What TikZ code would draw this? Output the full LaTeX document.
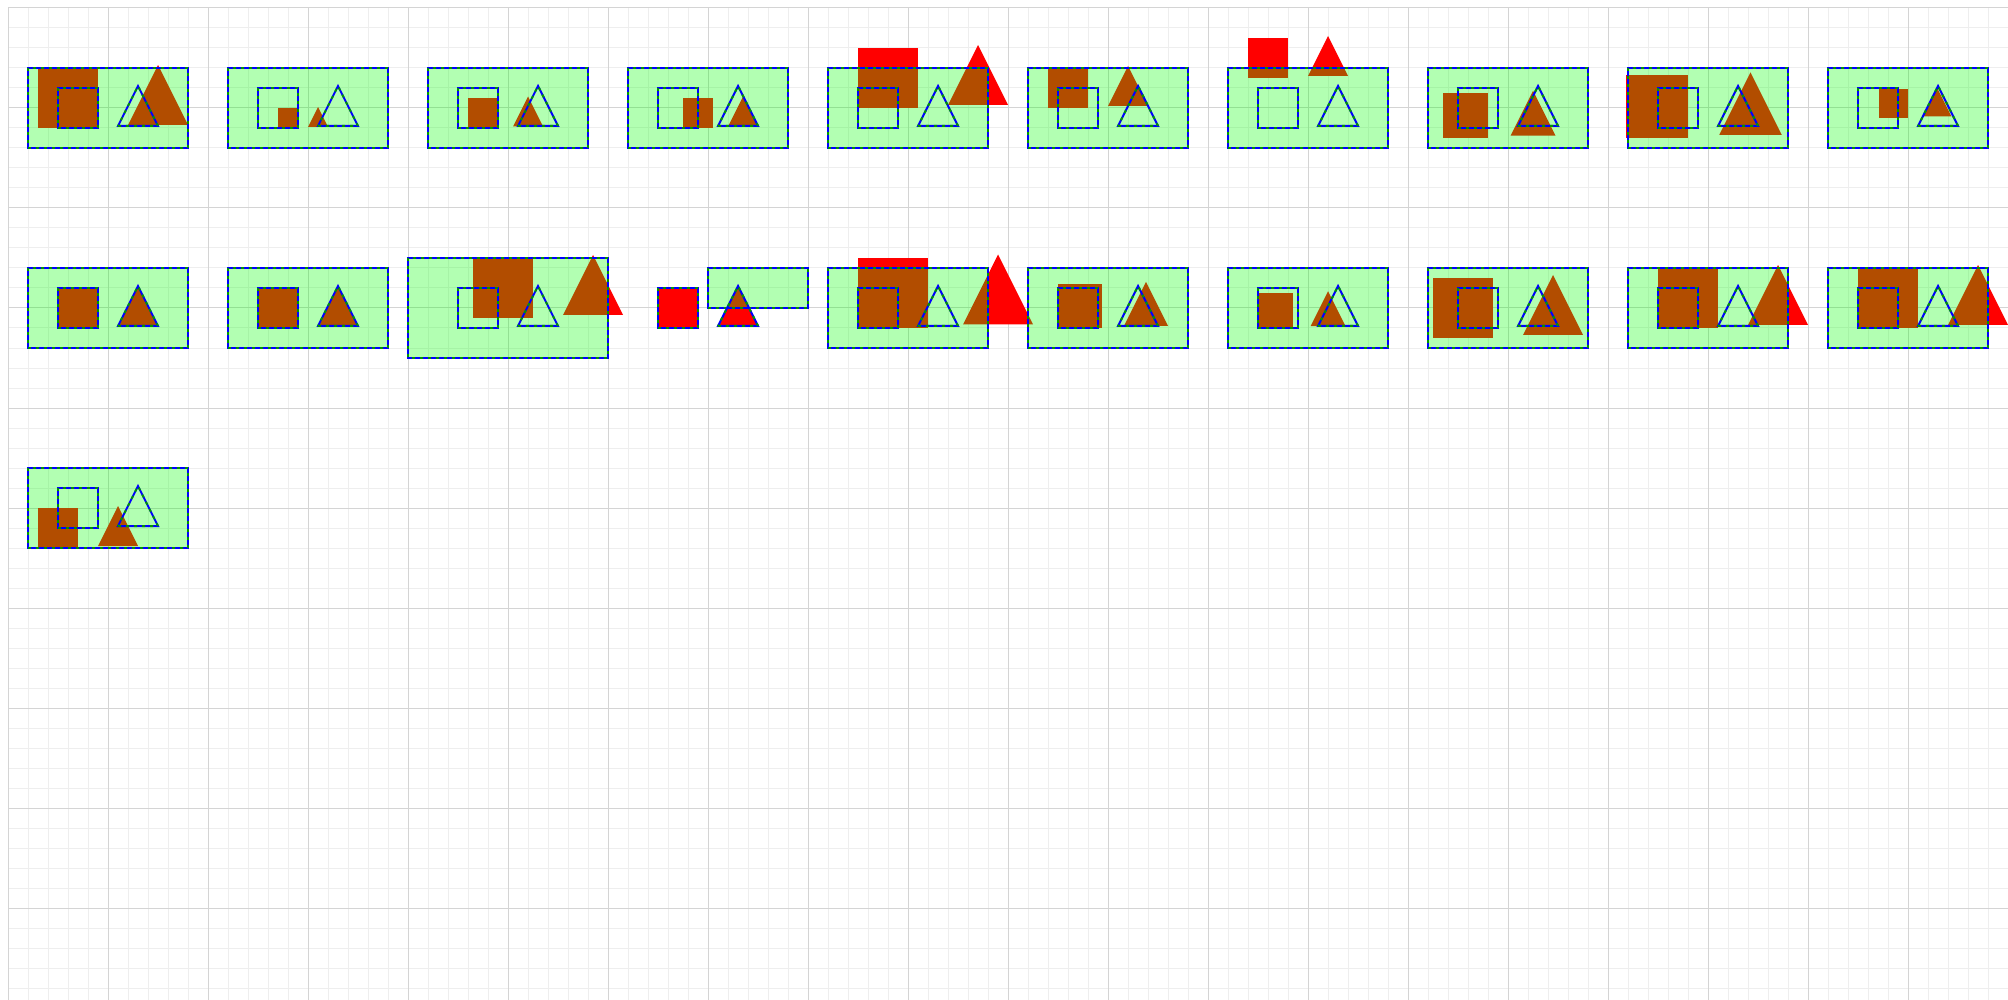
\documentclass[tikz,border=0pt]{standalone}
\begin{document}
\definecolor{svglime}{RGB}{0,255,0}
\definecolor{svgred}{RGB}{255,0,0}
\definecolor{svgblue}{RGB}{0,0,255}
\definecolor{svggreen}{RGB}{0,150,0}
\definecolor{minorgrid}{RGB}{238,238,238}
\definecolor{majorgrid}{RGB}{212,212,212}
\tikzset{
  outl/.style={draw=svgblue, line width=1pt, line join=miter,
    postaction={draw=svggreen, line width=1pt, dash pattern=on 1.5pt off 2.5pt}},
  viewbox/.style={fill=svglime, fill opacity=0.3},
  shapefill/.style={fill=svgred},
}
\newcommand\tcell[4]{%
  \begin{scope}[shift={#1}]
    \begin{scope}[#2]
      \fill[shapefill] (30,20) rectangle (70,60);
      \fill[shapefill] (90,58) -- (130,58) -- (110,18) -- cycle;
    \end{scope}
    \fill[viewbox] #3 rectangle #4;
    \draw[outl] #3 rectangle #4;
    \draw[outl] (30,20) rectangle (70,60);
    \draw[outl] (90,58) -- (130,58) -- (110,18) -- cycle;
  \end{scope}}
\begin{tikzpicture}[x=0.5pt, y=-0.5pt]
  \useasboundingbox (0,0) rectangle (2008,1000);
  \fill[white] (0,0) rectangle (2008,1000);
  % grid
  \foreach \x in {8,28,...,2008} \draw[minorgrid, line width=0.5pt] (\x,8) -- (\x,1000);
  \foreach \y in {8,28,...,1000} \draw[minorgrid, line width=0.5pt] (8,\y) -- (2008,\y);
  \foreach \x in {8,108,...,2008} \draw[majorgrid, line width=0.5pt] (\x,8) -- (\x,1000);
  \foreach \y in {8,108,...,1000} \draw[majorgrid, line width=0.5pt] (8,\y) -- (2008,\y);
  % row 0
  \tcell{(28,68)}{shift={(-35,-30)}, scale=1.5}{(0,0)}{(160,80)}
  \tcell{(228,68)}{shift={(35,30)}, scale=0.5}{(0,0)}{(160,80)}
  \tcell{(428,68)}{shift={(17.5,15)}, scale=0.75}{(0,0)}{(160,80)}
  \tcell{(628,68)}{shift={(32.5,15)}, scale=0.75}{(0,0)}{(160,80)}
  \tcell{(828,68)}{shift={(-15,-50)}, scale=1.5}{(0,0)}{(160,80)}
  \tcell{(1028,68)}{shift={(-10,-20)}}{(0,0)}{(160,80)}
  \tcell{(1228,68)}{shift={(-10,-50)}}{(0,0)}{(160,80)}
  \tcell{(1428,68)}{shift={(-18.75,2.5)}, scale=1.125}{(0,0)}{(160,80)}
  \tcell{(1628,68)}{shift={(-49.375,-23.75)}, scale=1.5625}{(0,0)}{(160,80)}
  \tcell{(1828,68)}{shift={(29.7,6.6)}, scale=0.72}{(0,0)}{(160,80)}
  % row 1
  \tcell{(28,268)}{}{(0,0)}{(160,80)}
  \tcell{(228,268)}{}{(0,0)}{(160,80)}
  \tcell{(428,268)}{shift={(0,-40)}, scale=1.5}{(-20,-10)}{(180,90)}
  \tcell{(628,268)}{}{(80,0)}{(180,40)}
  \tcell{(828,268)}{shift={(-22.5,-45)}, scale=1.75}{(0,0)}{(160,80)}
  \tcell{(1028,268)}{shift={(-3,-6)}, scale=1.1}{(0,0)}{(160,80)}
  \tcell{(1228,268)}{shift={(3.75,7.5)}, scale=0.875}{(0,0)}{(160,80)}
  \tcell{(1428,268)}{shift={(-40,-20)}, scale=1.5}{(0,0)}{(160,80)}
  \tcell{(1628,268)}{shift={(-15,-30)}, scale=1.5}{(0,0)}{(160,80)}
  \tcell{(1828,268)}{shift={(-15,-30)}, scale=1.5}{(0,0)}{(160,80)}
  % row 2
  \tcell{(28,468)}{shift={(-20,20)}}{(0,0)}{(160,80)}
\end{tikzpicture}
\end{document}
